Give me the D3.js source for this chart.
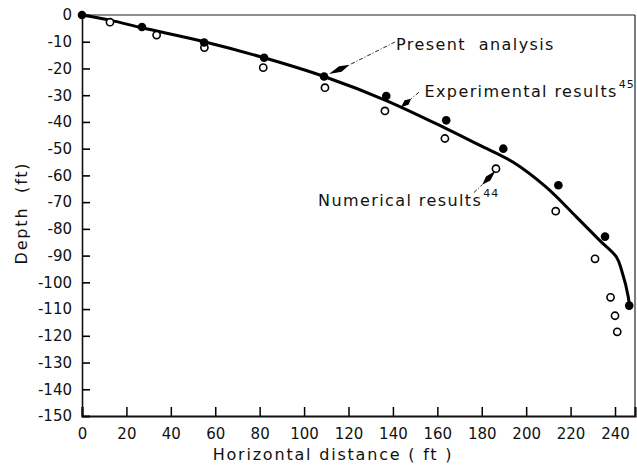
<!DOCTYPE html>
<html>
<head>
<meta charset="utf-8">
<script src="https://cdn.jsdelivr.net/npm/d3@7"></script>
<style>
  body { margin: 0; background: #fff; }
  svg { display: block; font-family: "DejaVu Sans", sans-serif; }
</style>
</head>
<body>
<div id="chart"></div>
<script>
// <-- data -->
var x_ticks = [0, 20, 40, 60, 80, 100, 120, 140, 160, 180, 200, 220, 240];
var y_ticks = [0, -10, -20, -30, -40, -50, -60, -70, -80, -90, -100, -110, -120, -130, -140, -150];

// experimental results (solid curve)
var exp_x = [0, 13, 27, 55, 82, 109, 137, 164, 179, 194, 209, 222.7, 233.2, 240.7, 243, 246, 246.4];
var exp_y = [0, -2, -4.8, -10, -16, -23, -32, -42.5, -48.7, -55, -64.4, -75.6, -84.4, -90.6, -95.6, -105.6, -108.7];

// present analysis (filled dots)
var pres_x = [0, 27, 55, 82, 109, 137, 164, 189.7, 214.5, 235.5, 246.4];
var pres_y = [0, -4.5, -10.3, -16, -23, -30.3, -39.4, -50, -63.7, -82.9, -108.7];

// numerical results (open circles)
var num_x = [12.6, 33.6, 55.1, 81.6, 109.4, 136.4, 163.4, 186.4, 213.3, 231, 238, 240, 241];
var num_y = [-2.7, -7.5, -12.2, -19.7, -27.2, -35.9, -46.2, -57.5, -73.4, -91.2, -105.6, -112.5, -118.5];

;(function(){
  var width = 637, height = 466;
  var m = {top: 15, right: 2, bottom: 50, left: 82};

  var svg = d3.select("#chart").append("svg")
              .attr("width", width)
              .attr("height", height);

  var x = d3.scaleLinear().domain([0, 249]).range([m.left, width - m.right]);
  var y = d3.scaleLinear().domain([-150, 0]).range([height - m.bottom, m.top]);

  // frame top / right
  svg.append("line")
     .attr("x1", x(0)).attr("x2", x(249))
     .attr("y1", y(0)).attr("y2", y(0))
     .attr("stroke", "#222").attr("stroke-width", 1.2);
  svg.append("line")
     .attr("x1", x(249)).attr("x2", x(249))
     .attr("y1", y(0)).attr("y2", y(-150))
     .attr("stroke", "#222").attr("stroke-width", 1.2);

  // axes, ticks inward
  var xAxis = d3.axisBottom(x).tickValues(x_ticks)
                .tickSize(-9).tickPadding(12)
                .tickFormat(function(d){ return String(d); });
  var yAxis = d3.axisLeft(y).tickValues(y_ticks)
                .tickSize(-8).tickPadding(10)
                .tickFormat(function(d){ return String(d); });

  var gx = svg.append("g")
              .attr("transform", "translate(0," + y(-150) + ")")
              .call(xAxis);
  gx.select(".domain").attr("stroke-width", 2.2).attr("stroke", "#111");
  gx.selectAll(".tick line").attr("stroke-width", 1.5);
  gx.selectAll("text").attr("font-size", 15).attr("fill", "#111")
    .attr("font-family", "DejaVu Sans, sans-serif");

  var gy = svg.append("g")
              .attr("transform", "translate(" + x(0) + ",0)")
              .call(yAxis);
  gy.select(".domain").attr("stroke-width", 1.6).attr("stroke", "#111");
  gy.selectAll(".tick line").attr("stroke-width", 1.6);
  gy.selectAll("text").attr("font-size", 15).attr("fill", "#111")
    .attr("font-family", "DejaVu Sans, sans-serif");

  // axis titles
  svg.append("text")
     .attr("x", 333).attr("y", 460)
     .attr("text-anchor", "middle")
     .attr("font-size", 16).attr("fill", "#111")
     .attr("letter-spacing", 1.8)
     .attr("xml:space", "preserve")
     .text("Horizontal distance ( ft )");
  svg.append("text")
     .attr("transform", "translate(27," + 213 + ") rotate(-90)")
     .attr("text-anchor", "middle")
     .attr("font-size", 16).attr("fill", "#111")
     .attr("letter-spacing", 1.8)
     .attr("xml:space", "preserve")
     .text("Depth  (ft)");

  // experimental curve
  var line = d3.line()
               .x(function(d){ return x(d[0]); })
               .y(function(d){ return y(d[1]); })
               .curve(d3.curveCatmullRom.alpha(0.5));
  svg.append("path")
     .datum(d3.zip(exp_x, exp_y))
     .attr("d", line)
     .attr("fill", "none")
     .attr("stroke", "#000")
     .attr("stroke-width", 3);

  // numerical results
  svg.selectAll("circle.num")
     .data(d3.zip(num_x, num_y))
     .enter().append("circle")
     .attr("class", "num")
     .attr("cx", function(d){ return x(d[0]); })
     .attr("cy", function(d){ return y(d[1]); })
     .attr("r", 3.6)
     .attr("fill", "#fff")
     .attr("stroke", "#000")
     .attr("stroke-width", 1.6);

  // present analysis
  svg.selectAll("circle.pres")
     .data(d3.zip(pres_x, pres_y))
     .enter().append("circle")
     .attr("class", "pres")
     .attr("cx", function(d){ return x(d[0]); })
     .attr("cy", function(d){ return y(d[1]); })
     .attr("r", 4.3)
     .attr("fill", "#000");

  // annotations
  function arrow(from, mid, tip){
    var p0 = [x(from[0]), y(from[1])];
    var p1 = [x(mid[0]), y(mid[1])];
    var p2 = [x(tip[0]), y(tip[1])];
    svg.append("line")
       .attr("x1", p0[0]).attr("y1", p0[1])
       .attr("x2", p1[0]).attr("y2", p1[1])
       .attr("stroke", "#222").attr("stroke-width", 1)
       .attr("stroke-dasharray", "4,2,1,2");
    var dx = p2[0] - p1[0], dy = p2[1] - p1[1];
    var len = Math.sqrt(dx*dx + dy*dy);
    var nx = -dy / len * 3, ny = dx / len * 3;
    svg.append("path")
       .attr("d", "M" + p1[0] + "," + p1[1]
                + "L" + (p1[0] + dx*0.45 + nx) + "," + (p1[1] + dy*0.45 + ny)
                + "L" + p2[0] + "," + p2[1]
                + "L" + (p1[0] + dx*0.45 - nx) + "," + (p1[1] + dy*0.45 - ny) + "Z")
       .attr("fill", "#000");
  }

  function label(pos, main, sup){
    var t = svg.append("text")
               .attr("x", x(pos[0])).attr("y", y(pos[1]))
               .attr("font-size", 16).attr("fill", "#111")
               .attr("letter-spacing", 1.4)
               .attr("xml:space", "preserve");
    t.append("tspan").text(main);
    if (sup) {
      t.append("tspan").attr("dy", -9).attr("dx", 1)
       .attr("font-size", 11).attr("letter-spacing", 1).text(sup);
    }
  }

  arrow([140.9, -10.1], [120.5, -18.6], [111.2, -22.1]);
  label([141.4, -13.1], "Present  analysis");

  arrow([151.7, -28.9], [148.2, -31.3], [143.6, -34.5]);
  label([154.2, -30.6], "Experimental results", "45");

  arrow([176.5, -66.4], [180.2, -63.5], [186.2, -58.3]);
  label([106.3, -71.6], "Numerical results", "44");
})();
</script>
</body>
</html>
